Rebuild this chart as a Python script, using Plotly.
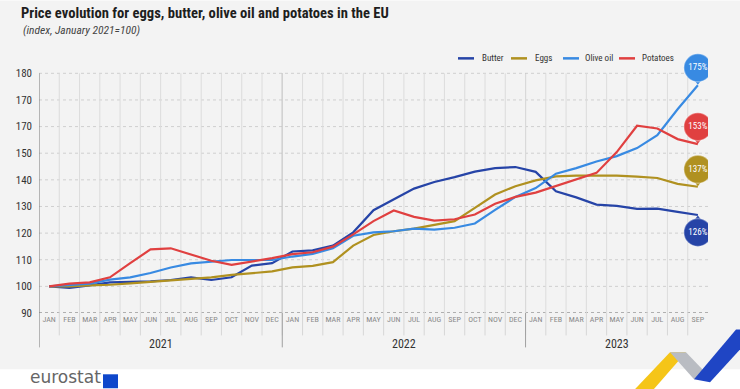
import plotly.graph_objects as go

# ---------------- data ----------------
months = ["JAN", "FEB", "MAR", "APR", "MAY", "JUN", "JUL", "AUG", "SEP", "OCT", "NOV", "DEC"] * 2 + \
         ["JAN", "FEB", "MAR", "APR", "MAY", "JUN", "JUL", "AUG", "SEP"]
years = ["2021", "2022", "2023"]

butter = [100, 99.4, 100.4, 101.5, 101.7, 101.9, 102.4, 103.4, 102.4, 103.4, 107.8, 108.7,
          113.1, 113.5, 115.3, 120.3, 128.6, 132.7, 136.7, 139.2, 141.0, 143.1, 144.4, 144.8,
          143.0, 135.7, 133.4, 130.7, 130.2, 129.1, 129.2, 128.0, 126.8]
eggs = [100, 100.0, 100.4, 100.6, 101.1, 101.7, 102.1, 102.8, 103.4, 104.3, 105.0, 105.6,
        107.1, 107.7, 109.1, 115.3, 119.3, 120.7, 121.7, 123.0, 124.5, 129.5, 134.5, 137.6,
        139.8, 141.3, 141.6, 141.6, 141.6, 141.2, 140.7, 138.5, 137.4]
olive_oil = [100, 100.6, 101.0, 102.5, 103.4, 105.0, 107.1, 108.6, 109.3, 109.9, 109.9, 109.9,
             111.2, 112.2, 114.3, 119.0, 120.3, 120.7, 121.7, 121.3, 122.0, 123.6, 128.7, 133.6,
             136.9, 142.3, 144.4, 146.9, 148.9, 151.9, 156.8, 166.5, 175.5]
potatoes = [100, 101.0, 101.5, 103.4, 108.7, 113.9, 114.3, 112.0, 109.6, 108.1, 109.3, 110.6,
            112.1, 112.8, 114.9, 119.5, 124.5, 128.5, 126.1, 124.7, 125.2, 127.0, 131.0, 133.6,
            135.2, 137.7, 140.2, 142.6, 150.4, 160.3, 159.3, 155.3, 153.4]

series_names = ["Butter", "Eggs", "Olive oil", "Potatoes"]
end_labels = ["126%", "137%", "175%", "153%"]
y_tick_values = [90, 100, 110, 120, 130, 140, 150, 160, 170, 180]
y_tick_labels = ["90", "100", "110", "120", "130", "140", "150", "170", "170", "180"]

# ---------------- style ----------------
colors = ["#2644A7", "#B09120", "#388AE2", "#E04040"]
FONT = "Roboto Condensed, Roboto, sans-serif"
W_PX, H_PX = 740, 389
L, R, B = 39, 708, 313.5
UNIT = 240.5 / 90.0          # pixels per index point
Y_MIN, Y_GRID_MAX, Y_MAX = 90, 180, 188
T = B - (Y_MAX - Y_MIN) * UNIT
PW, PH = R - L, B - T


def pxx(x):
    return (x - L) / PW


def pxy(y):
    return (B - y) / PH


n = len(months)
xs = list(range(n))

fig = go.Figure()
all_series = [butter, eggs, olive_oil, potatoes]
for name, vals, col in zip(series_names, all_series, colors):
    fig.add_trace(go.Scatter(x=xs, y=vals, mode="lines", name=name,
                             line=dict(color=col, width=2.2)))

for name, vals, col, lab in zip(series_names, all_series, colors, end_labels):
    below = name == "Butter"
    sgn = -1 if below else 1
    cy = vals[-1] + sgn * 17.5 / UNIT
    py_ = vals[-1] + sgn * 5 / UNIT
    fig.add_trace(go.Scatter(x=[xs[-1]], y=[py_], mode="markers", showlegend=False,
                             marker=dict(symbol="triangle-up" if below else "triangle-down",
                                         size=9, color=col), hoverinfo="skip"))
    fig.add_trace(go.Scatter(x=[xs[-1]], y=[cy], mode="markers+text", showlegend=False,
                             marker=dict(symbol="circle", size=28, color=col,
                                         line=dict(color="rgba(255,255,255,0.35)", width=1.5)),
                             text=[lab], textposition="middle center",
                             textfont=dict(family=FONT, size=9, color="white"),
                             hoverinfo="skip"))

shapes = []
shapes.append(dict(type="rect", xref="paper", yref="paper", x0=pxx(0), x1=pxx(W_PX),
                   y0=pxy(370), y1=pxy(0), fillcolor="#f3f3f3", line=dict(width=0), layer="below"))
for i in range(n - 1):
    bx = i + 0.5
    shapes.append(dict(type="line", xref="x", yref="y", x0=bx, x1=bx, y0=Y_MIN, y1=Y_GRID_MAX,
                       line=dict(color="#dcdcdc", width=1), layer="below"))
    shapes.append(dict(type="line", xref="x", yref="paper", x0=bx, x1=bx, y0=pxy(336), y1=0,
                       line=dict(color="#d6d6d6", width=1), layer="below"))
for yv in y_tick_values:
    shapes.append(dict(type="line", xref="paper", yref="y", x0=0, x1=1, y0=yv, y1=yv,
                       line=dict(color="#6a6a6a" if yv == Y_MIN else "#cfcfcf", width=1, dash="dot"),
                       layer="below"))
for bx in [-0.5, 11.5, 23.5]:
    shapes.append(dict(type="line", xref="x", yref="paper", x0=bx, x1=bx, y0=pxy(348),
                       y1=pxy(B - (Y_GRID_MAX - Y_MIN) * UNIT),
                       line=dict(color="#777" if bx == -0.5 else "#a0a0a0", width=1), layer="below"))
shapes.append(dict(type="rect", xref="paper", yref="paper", x0=pxx(103), x1=pxx(118),
                   y0=pxy(389), y1=pxy(375), fillcolor="#0e47cb", line=dict(width=0)))


def path(points):
    return "M " + " L ".join(f"{pxx(a):.4f},{pxy(b):.4f}" for a, b in points) + " Z"


shapes.append(dict(type="path", xref="paper", yref="paper",
                   path=path([(633, 392), (670, 353), (686, 353), (652, 392)]),
                   fillcolor="#f5c518", line=dict(width=0)))
shapes.append(dict(type="path", xref="paper", yref="paper",
                   path=path([(670, 353), (686, 353), (710, 378), (694, 380)]),
                   fillcolor="#b9bcc2", line=dict(width=0)))
shapes.append(dict(type="path", xref="paper", yref="paper",
                   path=path([(694, 380), (736, 330), (742, 330), (742, 348), (710, 383)]),
                   fillcolor="#1f45c4", line=dict(width=0)))

annotations = [
    dict(text="<b>Price evolution for eggs, butter, olive oil and potatoes in the EU</b>",
         xref="paper", yref="paper", x=pxx(19), y=pxy(12), xanchor="left", yanchor="middle",
         showarrow=False, font=dict(family=FONT, size=14.6, color="#1e1e1e")),
    dict(text="<i>(index, January 2021=100)</i>", xref="paper", yref="paper",
         x=pxx(21), y=pxy(30), xanchor="left", yanchor="middle", showarrow=False,
         font=dict(family=FONT, size=11.5, color="#444")),
    dict(text="eurostat", xref="paper", yref="paper", x=pxx(28), y=pxy(390),
         xanchor="left", yanchor="bottom", showarrow=False,
         font=dict(family="DejaVu Sans, sans-serif", size=17, color="#666")),
]

# legend (line samples + labels)
legend_line_x = [458, 511, 563, 619]
legend_text_x = [480, 533, 583, 640]
for name, col, lx, tx in zip(series_names, colors, legend_line_x, legend_text_x):
    shapes.append(dict(type="line", xref="paper", yref="paper", x0=pxx(lx), x1=pxx(lx + 16),
                       y0=pxy(58), y1=pxy(58), line=dict(color=col, width=2.5)))
    annotations.append(dict(text=name, xref="paper", yref="paper", x=pxx(tx), y=pxy(58),
                            xanchor="left", yanchor="middle", showarrow=False,
                            font=dict(family=FONT, size=9, color="#333")))

year_centers = [5.5, 17.5, 28]
for yr, cx in zip(years, year_centers):
    annotations.append(dict(text=yr, xref="x", yref="paper", x=cx, y=pxy(345),
                            xanchor="center", yanchor="middle", showarrow=False,
                            font=dict(family=FONT, size=12, color="#333")))

fig.update_layout(
    template="none",
    width=W_PX, height=H_PX,
    margin=dict(l=L, r=W_PX - R, t=T, b=H_PX - B, pad=0, autoexpand=False),
    paper_bgcolor="white", plot_bgcolor="rgba(0,0,0,0)",
    font=dict(family=FONT, color="#333"),
    showlegend=False,
    shapes=shapes, annotations=annotations,
    xaxis=dict(range=[-0.5, n - 0.5], tickmode="array", tickvals=xs, ticktext=months,
               showgrid=False, zeroline=False, showline=False, ticks="", automargin=False,
               tickfont=dict(family=FONT, size=8, color="#8a8a8a"), fixedrange=True),
    yaxis=dict(range=[Y_MIN, Y_MAX], tickmode="array", tickvals=y_tick_values, ticktext=y_tick_labels,
               showgrid=False, zeroline=False, showline=False, ticks="", automargin=False,
               ticklabelstandoff=6,
               tickfont=dict(family=FONT, size=11, color="#333"), fixedrange=True),
)

fig.write_html("out.html", config={"displayModeBar": False},
               post_script="document.body.style.margin='0';document.body.style.padding='0';")
